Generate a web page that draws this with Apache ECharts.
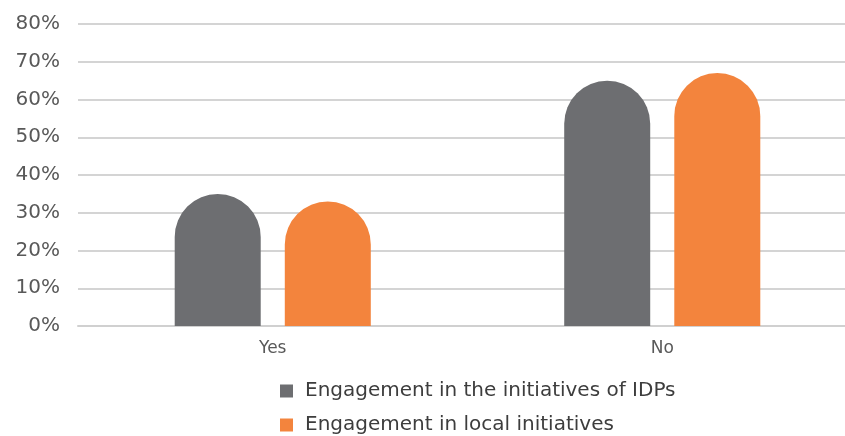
<!DOCTYPE html>
<html>
<head>
<meta charset="utf-8">
<style>
  html, body { margin: 0; padding: 0; background: #ffffff; }
  #chart { width: 845px; height: 436px; }
</style>
<script src="https://cdn.jsdelivr.net/npm/echarts@6/dist/echarts.min.js"></script>
</head>
<body>
<div id="chart"></div>
<script>
// Answer categories
const categories = ['Yes', 'No'];
// Share of respondents (%) per answer
const idpInitiatives = [35, 65];
const localInitiatives = [33, 67];
const seriesNames = ['Engagement in the initiatives of IDPs', 'Engagement in local initiatives'];
const yTicks = [0, 10, 20, 30, 40, 50, 60, 70, 80];

const FONT = '"DejaVu Sans", sans-serif';
const TEXT = '#595959';
const GRAY = '#6d6e71';
const ORANGE = '#f3843d';

const chart = echarts.init(document.getElementById('chart'), null, { renderer: 'canvas' });

const barStyle = (color) => ({
  color: color,
  borderRadius: [43, 43, 0, 0]
});

chart.setOption({
  animation: false,
  backgroundColor: '#ffffff',
  // plot area runs a little past the right edge of the canvas
  grid: { left: 78, width: 779, top: 24, height: 302, outerBoundsMode: 'none', containLabel: false },
  legend: {
    orient: 'vertical',
    left: 280,
    top: 381,
    padding: 0,
    height: 60,
    itemWidth: 13,
    itemHeight: 13,
    itemGap: 14,
    icon: 'rect',
    textStyle: {
      fontFamily: FONT, fontSize: 20, lineHeight: 20, color: '#3d3d3d',
      padding: [0, 0, 0, 7]
    },
    data: seriesNames
  },
  xAxis: {
    type: 'category',
    data: categories,
    axisLine: { show: true, lineStyle: { color: '#d0d0d0', width: 2 } },
    axisTick: { show: false },
    axisLabel: { fontFamily: FONT, fontSize: 17, color: TEXT, margin: 14 }
  },
  yAxis: {
    type: 'value',
    min: yTicks[0],
    max: yTicks[yTicks.length - 1],
    interval: 10,
    axisLine: { show: false },
    axisTick: { show: false },
    axisLabel: {
      fontFamily: FONT, fontSize: 20, color: TEXT, margin: 18,
      formatter: (v) => v + '%'
    },
    splitLine: { lineStyle: { color: '#d4d4d4', width: 2 } }
  },
  series: [
    {
      name: seriesNames[0],
      type: 'bar',
      data: idpInitiatives,
      barWidth: 86,
      barGap: '28%',
      itemStyle: barStyle(GRAY)
    },
    {
      name: seriesNames[1],
      type: 'bar',
      data: localInitiatives,
      barWidth: 86,
      barGap: '28%',
      itemStyle: barStyle(ORANGE)
    }
  ]
});
</script>
</body>
</html>
